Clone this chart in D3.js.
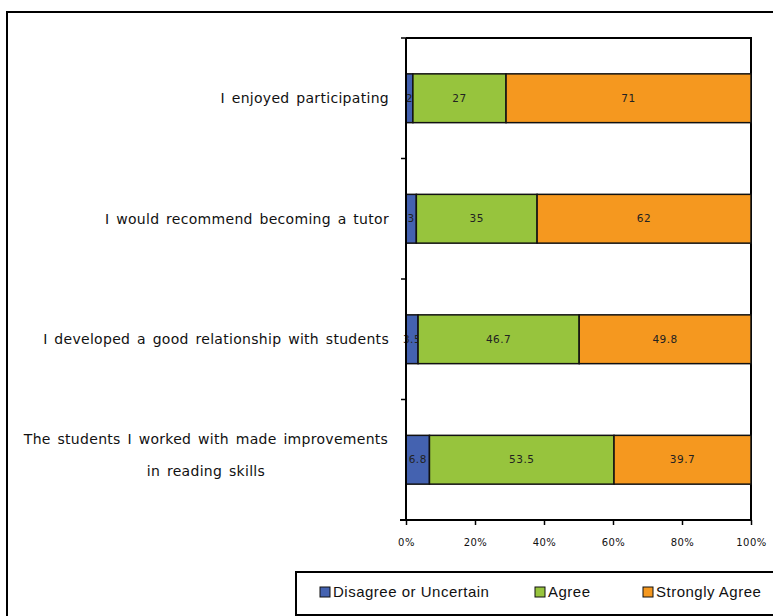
<!DOCTYPE html>
<html>
<head>
<meta charset="utf-8">
<script src="https://cdn.jsdelivr.net/npm/d3@7"></script>
<style>
  body { margin: 0; background: #fff; }
  svg { display: block; }
</style>
</head>
<body>
<svg id="chart"></svg>
<script>
// data
const categories = [
  ["I enjoyed participating"],
  ["I would recommend becoming a tutor"],
  ["I developed a good relationship with students"],
  ["The students I worked with made improvements", "in reading skills"]
];
const disagree = [2, 3, 3.5, 6.8];
const agree = [27, 35, 46.7, 53.5];
const strongly = [71, 62, 49.8, 39.7];
const seriesNames = ["Disagree or Uncertain", "Agree", "Strongly Agree"];
const xTicks = [0, 20, 40, 60, 80, 100];

const colors = ["#4462b0", "#97c43d", "#f5981f"];

const W = 773, H = 616;
const margin = { top: 38, right: 22, bottom: 96, left: 406 };
const width = W - margin.left - margin.right;
const height = H - margin.top - margin.bottom;

const svg = d3.select('#chart').attr('width', W).attr('height', H);

// outer frame
svg.append('rect')
  .attr('x', 7).attr('y', 12)
  .attr('width', W + 10).attr('height', H + 10)
  .attr('fill', 'none').attr('stroke', '#000').attr('stroke-width', 2);

const g = svg.append('g').attr('transform', `translate(${margin.left},${margin.top})`);

const rows = categories.map((c, i) => ({
  key: i, label: c,
  values: [disagree[i], agree[i], strongly[i]]
}));

const y = d3.scaleBand()
  .domain(rows.map(d => d.key))
  .range([0, height])
  .paddingInner(0.595)
  .paddingOuter(0.2975);

const x = d3.scaleLinear().domain([0, 100]).range([0, width]);

// plot frame (top, right)
g.append('path')
  .attr('d', `M0,0H${width}V${height}`)
  .attr('fill', 'none').attr('stroke', '#000').attr('stroke-width', 2);

// bars
rows.forEach(r => {
  let acc = 0;
  r.values.forEach((v, j) => {
    const x0 = acc;
    acc += v;
    g.append('rect')
      .attr('x', x(x0))
      .attr('y', y(r.key))
      .attr('width', x(acc) - x(x0))
      .attr('height', y.bandwidth())
      .attr('fill', colors[j])
      .attr('stroke', '#111')
      .attr('stroke-width', 1.5);
    g.append('text')
      .attr('x', x(x0 + v / 2))
      .attr('y', y(r.key) + y.bandwidth() / 2)
      .attr('dy', '0.35em')
      .attr('text-anchor', 'middle')
      .attr('font-family', 'DejaVu Sans, Verdana, sans-serif')
      .attr('font-size', 10.5)
      .attr('letter-spacing', 0.5)
      .attr('fill', '#222')
      .text(v);
  });
});

// left axis: separators between categories
const sepY = d3.range(rows.length + 1).map(i => i * height / rows.length);
g.append('line')
  .attr('x1', 0).attr('x2', 0).attr('y1', 0).attr('y2', height)
  .attr('stroke', '#000').attr('stroke-width', 2);
g.selectAll('.sep').data(sepY).enter().append('line')
  .attr('class', 'sep')
  .attr('x1', -5).attr('x2', 0)
  .attr('y1', d => d).attr('y2', d => d)
  .attr('stroke', '#000').attr('stroke-width', 1.5);

// category labels
rows.forEach(r => {
  const cy = y(r.key) + y.bandwidth() / 2;
  const t = g.append('text')
    .attr('font-family', 'DejaVu Sans, Verdana, sans-serif')
    .attr('font-size', 14)
    .attr('letter-spacing', 0.3)
    .attr('word-spacing', 2)
    .attr('fill', '#111');
  if (r.label.length === 1) {
    t.attr('x', -17).attr('y', cy).attr('dy', '0.35em')
      .attr('text-anchor', 'end').text(r.label[0]);
  } else {
    t.attr('text-anchor', 'middle');
    r.label.forEach((line, k) => {
      t.append('tspan')
        .attr('x', -200)
        .attr('y', cy - 21 + k * 32)
        .attr('dy', '0.35em')
        .text(line);
    });
  }
});

// bottom axis
g.append('g')
  .attr('transform', `translate(0,${height})`)
  .call(d3.axisBottom(x).tickValues(xTicks).tickFormat(d => d + '%').tickSize(5).tickPadding(14))
  .call(g => g.select('.domain').attr('stroke-width', 2).attr('d', `M-6,0H${width}`))
  .call(g => g.selectAll('.tick line').attr('stroke-width', 1.5))
  .call(g => g.selectAll('.tick text')
    .attr('font-family', 'DejaVu Sans, Verdana, sans-serif')
    .attr('font-size', 10)
    .attr('letter-spacing', 0.5)
    .attr('fill', '#111'));

// legend
const legend = svg.append('g');
legend.append('rect')
  .attr('x', 296).attr('y', 572)
  .attr('width', 490).attr('height', 43)
  .attr('fill', '#fff').attr('stroke', '#000').attr('stroke-width', 2);

const legendX = [320, 535, 643];
seriesNames.forEach((name, i) => {
  legend.append('rect')
    .attr('x', legendX[i]).attr('y', 587)
    .attr('width', 10).attr('height', 10)
    .attr('fill', colors[i]).attr('stroke', '#111').attr('stroke-width', 1);
  legend.append('text')
    .attr('x', legendX[i] + 13).attr('y', 592)
    .attr('dy', '0.35em')
    .attr('font-family', 'Liberation Sans, Arial, sans-serif')
    .attr('font-size', 15)
    .attr('letter-spacing', 0.5)
    .attr('fill', '#111')
    .text(name);
});
</script>
</body>
</html>
